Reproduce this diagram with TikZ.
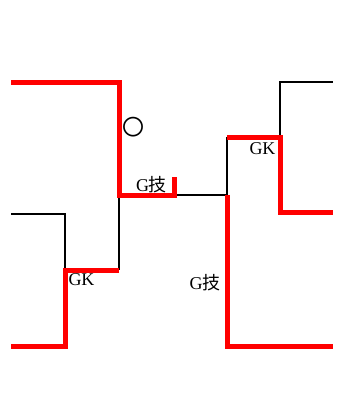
\documentclass[tikz,border=0pt]{standalone}
\usepackage{fontspec}
\setmainfont{Liberation Serif}
\newfontfamily\cjk{Noto Sans CJK SC}
\begin{document}
\begin{tikzpicture}[x=1pt,y=-1pt,
  redline/.style={draw=red,line width=5pt,line join=miter},
  blackline/.style={draw=black,line width=1.6pt,line join=miter},
  lbl/.style={inner sep=0pt,font=\fontsize{18}{20}\selectfont}]
\useasboundingbox (0,0) rectangle (341,405);
% coordinates
\coordinate (a1) at (11,82);
\coordinate (a2) at (119,82);
\coordinate (a3) at (119,195);
\coordinate (a4) at (174,195);
\coordinate (a5) at (174,177);
\coordinate (b1) at (227,195);
\coordinate (b2) at (227,137);
\coordinate (b3) at (280,137);
\coordinate (b4) at (280,212);
\coordinate (b5) at (333,212);
\coordinate (c1) at (280,82);
\coordinate (c2) at (333,82);
\coordinate (d1) at (227,346);
\coordinate (d2) at (333,346);
\coordinate (e1) at (11,214);
\coordinate (e2) at (65,214);
\coordinate (e3) at (65,270);
\coordinate (e4) at (119,270);
\coordinate (e5) at (65,346);
\coordinate (e6) at (11,346);
% black lines
\draw[blackline] (a3) -- (b1) -- (b2);
\draw[blackline] (a3) -- (e4);
\draw[blackline] (b3) -- (c1) -- (c2);
\draw[blackline] (e1) -- (e2) -- (e3);
% red lines
\draw[redline] (a1) -- (a2) -- (a3) -- (a4) -- (a5);
\draw[redline] (b2) -- (b3) -- (b4) -- (b5);
\draw[redline] (b1) -- (d1) -- (d2);
\draw[redline] (e4) -- (e3) -- (e5) -- (e6);
% labels
\node[lbl,font=\fontsize{22}{24}\selectfont] (circ) at (133,127) {\cjk 〇};
\node[lbl] (gji1) at (151.5,184.5) {G{\cjk 技}};
\node[lbl] (gk1) at (81.5,279.5) {GK};
\node[lbl] (gji2) at (205,282.5) {G{\cjk 技}};
\node[lbl] (gk2) at (262.5,148.5) {GK};
\end{tikzpicture}
\end{document}
